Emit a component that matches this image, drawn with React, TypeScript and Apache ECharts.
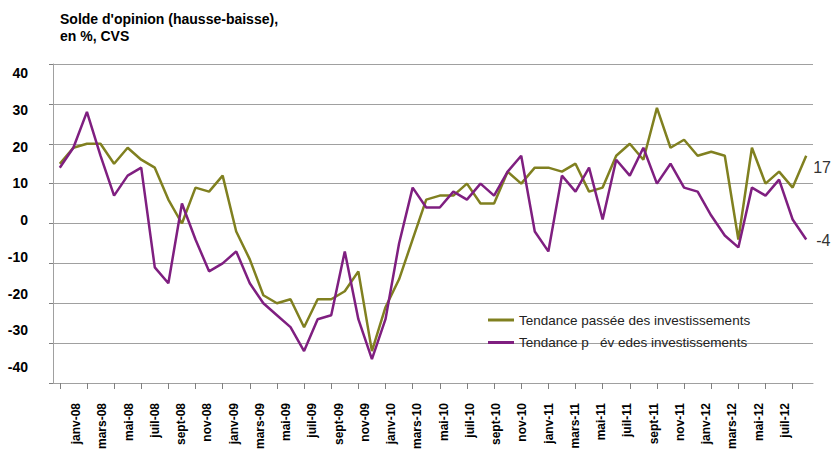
import React, { useEffect, useRef } from 'react';
import * as echarts from 'echarts';

const years = ['08', '09', '10', '11', '12'];
const monthNames = ['janv', 'févr', 'mars', 'avr', 'mai', 'juin', 'juil', 'août', 'sept', 'oct', 'nov', 'déc'];

// 56 months: janv-08 .. août-12
const categories: string[] = [];
years.forEach((y, yi) => {
  const count = yi === years.length - 1 ? 8 : 12;
  for (let m = 0; m < count; m++) categories.push(`${monthNames[m]}-${y}`);
});

const tickLabels = [
  'janv-08', 'mars-08', 'mai-08', 'juil-08', 'sept-08', 'nov-08',
  'janv-09', 'mars-09', 'mai-09', 'juil-09', 'sept-09', 'nov-09',
  'janv-10', 'mars-10', 'mai-10', 'juil-10', 'sept-10', 'nov-10',
  'janv-11', 'mars-11', 'mai-11', 'juil-11', 'sept-11', 'nov-11',
  'janv-12', 'mars-12', 'mai-12', 'juil-12',
];

const passee = [
  15, 19, 20, 20, 15, 19, 16, 14, 6, 0, 9, 8,
  12, -2, -9, -18, -20, -19, -26, -19, -19, -17, -12, -32,
  -21, -14, -4, 6, 7, 7, 10, 5, 5, 13, 10, 14,
  14, 13, 15, 8, 9, 17, 20, 16, 29, 19, 21, 17,
  18, 17, -4, 19, 10, 13, 9, 17,
];

const prevue = [
  14, 19, 28, 17, 7, 12, 14, -11, -15, 5, -4, -12,
  -10, -7, -15, -20, -23, -26, -32, -24, -23, -7, -24, -34,
  -24, -5, 9, 4, 4, 8, 6, 10, 7, 13, 17, -2,
  -7, 12, 8, 14, 1, 16, 12, 19, 10, 15, 9, 8,
  2, -3, -6, 9, 7, 11, 1, -4,
];

const seriesNames = ['Tendance passée des investissements', 'Tendance p   év edes investissements'];

const FONT = "'Liberation Sans', Arial, sans-serif";
const OLIVE = '#808020';
const PURPLE = '#7F1F80';

export default function App() {
  const ref = useRef<HTMLDivElement>(null);
  useEffect(() => {
    if (!ref.current) return;
    const chart = echarts.init(ref.current, null, { renderer: 'svg' });
    const last = passee.length - 1;
    const endLabel = (dx: number, dy: number) => ({
      show: true,
      position: 'right',
      distance: 5,
      offset: [dx, dy],
      formatter: (p: any) => (p.dataIndex === last ? String(p.value) : ''),
      fontSize: 16,
      color: '#333',
      fontFamily: FONT,
    });
    chart.setOption({
      animation: false,
      textStyle: { fontFamily: FONT },
      title: {
        text: "Solde d'opinion (hausse-baisse),\nen %, CVS",
        left: 55,
        top: 5,
        textStyle: { fontSize: 14, fontWeight: 'bold', lineHeight: 17, color: '#000', fontFamily: FONT },
      },
      legend: {
        orient: 'vertical',
        left: 483,
        top: 308,
        itemWidth: 26,
        itemHeight: 3,
        itemGap: 8.5,
        icon: 'rect',
        data: seriesNames,
        textStyle: { fontSize: 13.5, color: '#222', fontFamily: FONT },
      },
      grid: [
        { left: 53, right: 21, top: 64, bottom: 71 },
        { left: 76, right: 49, top: 73, bottom: 87 },
      ],
      xAxis: [
        {
          type: 'category',
          gridIndex: 0,
          data: categories,
          boundaryGap: true,
          axisLine: { onZero: false, lineStyle: { color: '#a0a0a0', width: 1 } },
          axisTick: { show: true, alignWithLabel: true, interval: 1, length: 6, lineStyle: { color: '#808080' } },
          axisLabel: { show: false },
          splitLine: { show: false },
        },
        {
          type: 'category',
          gridIndex: 1,
          data: tickLabels,
          boundaryGap: false,
          axisLine: { show: false, onZero: false },
          axisTick: { show: false },
          splitLine: { show: false },
          axisLabel: { interval: 0, rotate: 90, margin: 36, fontSize: 12, fontWeight: 'bold', color: '#000', fontFamily: FONT },
        },
      ],
      yAxis: [
        {
          type: 'value',
          gridIndex: 0,
          min: -40,
          max: 40,
          interval: 10,
          axisLine: { show: true, lineStyle: { color: '#a0a0a0' } },
          axisTick: { show: true, length: 4, lineStyle: { color: '#808080' } },
          axisLabel: { show: false },
          splitLine: { show: true, lineStyle: { color: '#a0a0a0', width: 1 } },
        },
        {
          type: 'value',
          gridIndex: 1,
          min: -40,
          max: 40,
          interval: 10,
          axisLine: { show: false },
          axisTick: { show: false },
          splitLine: { show: false },
          axisLabel: { margin: 48, fontSize: 14, fontWeight: 'bold', color: '#000', fontFamily: FONT },
        },
      ],
      series: [
        {
          name: seriesNames[0],
          type: 'line',
          xAxisIndex: 0,
          yAxisIndex: 0,
          data: passee,
          showSymbol: true,
          symbol: 'circle',
          symbolSize: 0,
          color: OLIVE,
          lineStyle: { color: OLIVE, width: 2.5 },
          label: endLabel(2, 12),
          emphasis: { disabled: true },
          z: 3,
        },
        {
          name: seriesNames[1],
          type: 'line',
          xAxisIndex: 0,
          yAxisIndex: 0,
          data: prevue,
          showSymbol: true,
          symbol: 'circle',
          symbolSize: 0,
          color: PURPLE,
          lineStyle: { color: PURPLE, width: 2.5 },
          label: endLabel(5, 1),
          emphasis: { disabled: true },
          z: 4,
        },
      ],
    });
    return () => chart.dispose();
  }, []);
  return <div ref={ref} style={{ position: 'absolute', left: 0, top: 0, width: 834, height: 454 }} />;
}
